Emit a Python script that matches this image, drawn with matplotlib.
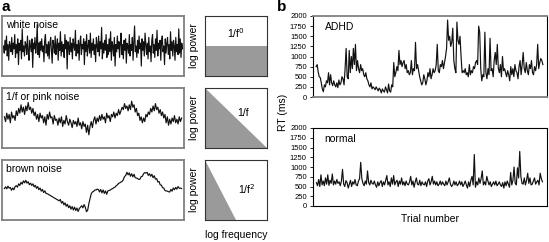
import numpy as np
import matplotlib.pyplot as plt
from matplotlib.patches import Polygon

plt.rcParams['font.family'] = ['Liberation Sans', 'DejaVu Sans']

# ---- data ----
white = [0.1, -0.4, 0.5, -0.2, 0.8, -0.6, 0.2, -0.9, 0.4, 0.1, -0.3, 0.7, -0.5, 0.3, -0.1, 0.9, -0.7, 0.2, -0.4, 0.6,
         -1.2, 0.3, -0.2, 0.5, -0.8, 1.3, -0.3, 0.1, -0.6, 0.4, 0.2, -0.5, 0.8, -0.2, -0.9, 0.5, 0.1, -0.3, 0.6, -1.4,
         0.3, -0.1, 0.7, -0.4, 0.2, 1.6, -0.5, 0.3, -0.7, 0.4, -0.2, 0.6, -0.3, 0.1, -1.0, 0.5, 0.9, -0.4, 0.2, -0.6,
         0.4, -0.8, 0.3, 0.7, -0.2, -1.1, 0.5, 0.2, -0.4, 0.8, -0.5, 0.1, 0.6, -0.9, 0.3, -0.2, 1.1, -0.6, 0.4, -0.3,
         0.2, -0.7, 0.9, -0.1, 0.5, -1.5, 0.4, 0.1, -0.5, 0.7, -0.3, 0.3, -0.8, 0.6, 0.1, -0.2, 1.2, -0.6, 0.2, -0.4,
         0.5, -0.9, 0.3, 0.8, -0.5, 0.2, -0.1, 0.6, -1.2, 0.4, -0.3, 0.9, -0.6, 0.1, 0.5, -0.4, 1.0, -0.7, 0.3, -0.2,
         0.6, -0.5, 0.2, -1.0, 0.7, 0.1, -0.3, 0.8, -0.6, 0.4, -0.1, 1.4, -0.8, 0.3, -0.4, 0.5, -0.2, 0.9, -0.7, 0.2,
         -0.5, 0.6, -0.3, 1.1, -0.9, 0.4, 0.1, -0.6, 0.7, -1.3, 0.2, -0.3, 0.8, -0.1, 0.4, -0.7, 0.3, 1.0, -0.5, 0.2,
         -0.8, 0.5, -0.2, 0.6, -1.1, 0.3, 0.1, -0.4, 0.9, -0.6, 0.2, -0.2, 0.7, -0.9, 0.4, 1.5, -0.3, 0.1, -0.7, 0.5,
         -0.4, 0.8, -0.1, 0.3, -1.3, 0.6, -0.2, 0.4, -0.6, 1.0, 0.2, -0.5, 0.3, -0.8, 0.7, -0.3, 0.1, -1.0, 0.5, 0.9,
         -0.4, 0.2, -0.7, 0.6, -0.2, 1.2, -0.6, 0.3, -0.1, 0.5, -0.9, 0.4, 0.8, -0.3, 0.1, -1.2, 0.6, -0.4, 0.3, 0.7,
         -0.5, 0.2, -0.8, 1.1, -0.2, 0.4, -0.6, 0.5, 0.1, -0.9, 0.7, -0.3, 0.2, -0.5, 1.3, -0.4, 0.6, -0.7, 0.3, -0.1]
pink = [0.2, -0.2, 0.5, 0.0, 0.4, -0.3, 0.6, 0.1, 0.3, -0.1, 0.7, 0.3, 0.9, 0.5, 1.2, 0.6, 1.0, 0.4, 1.1, 0.7,
        1.4, 0.8, 1.0, 0.5, 0.9, 0.3, 0.6, 0.0, 0.4, -0.2, 0.5, 0.1, 0.3, -0.3, 0.2, -0.5, 0.4, 0.0, 0.6, 0.1,
        0.2, -0.4, 0.3, -0.1, 0.0, -0.5, 0.1, -0.3, 0.2, -0.6, -0.1, -0.4, 0.3, -0.2, -0.5, 0.0, -0.3, -0.7, -0.1, -0.4,
        -0.2, -0.6, 0.1, -0.5, -0.3, -0.8, -0.2, -0.6, -0.4, -1.1, -0.5, -1.3, -0.6, -0.2, -0.7, -0.1, 0.2, -0.4, 0.1, -0.2,
        0.3, -0.1, 0.4, 0.0, 0.2, -0.3, 0.5, 0.1, 0.3, -0.2, 0.4, 0.2, 0.6, 0.1, 0.5, 0.3, 0.8, 0.4, 0.7, 1.0,
        0.8, 1.3, 0.9, 1.1, 0.7, 1.2, 0.8, 1.5, 1.0, 1.2, 0.6, 0.9, 0.3, 0.5, -0.1, 0.2, -0.3, 0.1, -0.2, 0.4,
        0.2, 0.6, 0.4, 0.9, 0.6, 1.1, 0.7, 1.3, 0.8, 1.0, 0.5, 0.8, 0.3, 0.6, 0.1, 0.4, -0.3, 0.2, -0.5, 0.0,
        -0.4, 0.1, -0.2, 0.3, -0.3, 0.0, -0.4, 0.2, -0.2, 0.1]
brown = [0.30, 0.42, 0.28, 0.47, 0.33, 0.38, 0.18, 0.34, 0.22, 0.44, 0.50, 0.40, 0.63, 0.52, 0.74, 0.61, 0.84, 0.70, 0.88, 0.68,
         0.78, 0.57, 0.68, 0.52, 0.63, 0.42, 0.53, 0.32, 0.44, 0.22, 0.34, 0.12, 0.24, 0.02, 0.14, -0.04, -0.06, -0.10, -0.16, -0.20,
         -0.26, -0.30, -0.36, -0.40, -0.46, -0.50, -0.56, -0.46, -0.72, -0.60, -0.84, -0.70, -0.94, -0.80, -1.04, -0.90, -1.14, -0.96, -1.20, -1.00,
         -1.24, -1.06, -1.30, -1.10, -1.00, -0.90, -1.05, -0.82, -1.00, -1.32, -1.22, -0.76, -0.42, -0.06, 0.06, 0.10, 0.20, 0.20, 0.26, 0.24,
         0.06, 0.24, 0.00, 0.20, -0.04, 0.14, -0.10, 0.14, 0.16, 0.20, 0.26, 0.30, 0.36, 0.40, 0.50, 0.56, 0.66, 0.70, 0.76, 0.80,
         0.92, 1.14, 1.22, 1.44, 1.26, 1.40, 1.16, 1.34, 1.12, 1.30, 1.06, 1.04, 1.00, 0.94, 0.96, 1.14, 1.16, 1.34, 1.42, 1.38,
         1.44, 1.22, 1.34, 1.16, 1.30, 1.06, 1.20, 0.96, 1.00, 0.76, 0.80, 0.56, 0.54, 0.36, 0.34, 0.16, 0.14, 0.12, 0.08, 0.06,
         0.24, 0.12, 0.34, 0.22, 0.38, 0.26, 0.44, 0.32, 0.34, 0.30]

adhd = [750, 800, 620, 500, 480, 350, 200, 130, 300, 250, 400, 350,
        600, 300, 550, 350, 280, 400, 300, 250, 350, 230, 420, 300, 350, 500, 450, 300, 700,
        1200, 500, 450, 1150, 600, 1000, 700, 1200, 800, 1300, 650, 900, 700, 600, 800, 650, 700, 550, 500, 600,
        450, 400, 300, 250, 350, 200, 250, 220, 180, 250, 200, 150, 220, 180, 100, 200, 150, 120, 250, 180, 100, 320, 150, 120, 300, 250,
        850, 500, 600, 750, 650, 1150, 800, 900, 750, 850, 900, 700, 800, 600, 650, 550, 600, 900, 550, 700, 650, 1350, 700, 800, 650, 500, 400, 300, 350,
        550, 450, 300, 400, 600, 500, 700, 450, 550, 700, 600, 650, 800, 1300, 650, 600, 800, 750, 900, 700, 850, 1000,
        1200, 1900, 1400, 1500, 1250, 1350, 1700, 900, 700, 600, 1850, 1400, 1300, 1500, 1000, 600, 650, 600, 700, 550,
        600, 500, 800, 550, 650, 600, 750, 700, 850, 900, 800, 1750, 1600,
        700, 400, 550, 500, 1600, 600, 450, 700, 550, 1450, 650, 700, 500, 900, 1100, 800, 1300,
        700, 600, 800, 500, 1000, 650, 700, 600, 500, 650, 550, 400, 750, 550, 700, 500, 800, 650, 600, 450, 750, 900,
        550, 800, 1100, 700, 600, 850, 650, 550, 800, 700, 900, 600, 550, 750, 650, 800, 1300, 700, 850, 950, 900, 800]
normal = [600, 520, 680, 500, 800, 540, 640, 520, 720, 560, 800, 530, 660, 580, 820, 540, 640, 560, 680, 580,
          620, 520, 640, 940, 560, 500, 650, 600, 460, 560, 660, 500, 620, 560, 680, 540, 520, 640, 700, 1120,
          700, 580, 520, 640, 560, 900, 600, 540, 660, 580, 560, 640, 540, 480, 620, 520, 600, 650, 500, 620,
          540, 660, 780, 540, 620, 500, 720, 560, 780, 540, 620, 660, 500, 640, 560, 720, 540, 620, 520, 640,
          560, 540, 620, 760, 540, 640, 480, 620, 720, 560, 540, 660, 520, 620, 560, 540, 620, 500, 640, 700,
          540, 620, 760, 560, 640, 540, 620, 520, 560, 640, 540, 620, 560, 520, 640, 540, 620, 720, 560, 500,
          540, 640, 540, 620, 520, 560, 640, 540, 620, 500, 560, 640, 540, 460, 620, 500, 660, 760, 540, 1320,
          480, 620, 540, 720, 580, 700, 900, 540, 620, 540, 760, 640, 540, 620, 500, 560, 620, 540, 640, 520,
          560, 620, 540, 500, 600, 460, 620, 520, 640, 560, 480, 860, 540, 660, 1000, 580, 540, 980, 720, 1400,
          760, 580, 560, 720, 540, 660, 840, 580, 720, 540, 560, 640, 720, 560, 620, 660, 540, 840, 700, 620]

noise_names = ['white noise', '1/f or pink noise', 'brown noise']
spec_labels = ['1/f$^0$', '1/f', '1/f$^2$']
rt_ticks = [0, 250, 500, 750, 1000, 1250, 1500, 1750, 2000]

W, H = 549, 242
fig = plt.figure(figsize=(W / 100, H / 100), dpi=100)


def box(x0, y0, x1, y1):
    # pixel box (top-left origin) -> figure axes
    return fig.add_axes([x0 / W, 1 - y1 / H, (x1 - x0) / W, (y1 - y0) / H])


gray = '#9a9a9a'
edge = '#808080'
rows = [(16, 76), (88, 148), (160, 220)]
ylims = [(-2.0, 2.2), (-2.4, 2.6), (-1.9, 2.3)]

# panel a: noise traces
for (y0, y1), series, name, lim in zip(rows, [white, pink, brown], noise_names, ylims):
    ax = box(2, y0, 184, y1)
    ax.plot(np.arange(len(series)), series, color='#111111', lw=0.85)
    ax.set_xlim(-2, len(series) + 1)
    ax.set_ylim(*lim)
    ax.set_xticks([])
    ax.set_yticks([])
    for s in ax.spines.values():
        s.set_color(edge)
        s.set_linewidth(1.3)
    ax.text(0.02, 0.93, name, transform=ax.transAxes, fontsize=7.5, va='top', ha='left')

# panel a: spectra
shapes = [[(0, 0), (0, 0.5), (1, 0.5), (1, 0)],
          [(0, 0), (0, 1), (1, 0)],
          [(0, 0), (0, 1), (0.5, 0)]]
text_pos = [(0.5, 0.72), (0.62, 0.58), (0.68, 0.52)]
for (y0, y1), shp, lab, tp in zip(rows, shapes, spec_labels, text_pos):
    ax = box(205, y0, 267, y1)
    ax.add_patch(Polygon(shp, closed=True, facecolor=gray, edgecolor='none'))
    ax.set_xlim(0, 1)
    ax.set_ylim(0, 1)
    ax.set_xticks([])
    ax.set_yticks([])
    for s in ax.spines.values():
        s.set_color('#333333')
        s.set_linewidth(0.8)
    ax.text(tp[0], tp[1], lab, transform=ax.transAxes, fontsize=7.5, ha='center', va='center')
    ax.set_ylabel('log power', fontsize=7.5, labelpad=4)

fig.text(236 / W, 1 - 235 / H, 'log frequency', fontsize=7.5, ha='center', va='center')

# panel b
axA = box(313, 16, 547, 97)
axN = box(313, 128, 547, 206)
for ax, series, name in [(axA, adhd, 'ADHD'), (axN, normal, 'normal')]:
    ax.plot(np.arange(len(series)), series, color='#111111', lw=0.85)
    ax.set_xlim(-3, len(series) + 3)
    ax.set_ylim(0, 2000)
    ax.set_yticks(rt_ticks)
    ax.set_yticklabels([str(t) for t in rt_ticks], fontsize=5.5)
    ax.tick_params(axis='y', length=2.5, width=0.6, pad=2)
    ax.set_xticks([])
    for s in ax.spines.values():
        s.set_linewidth(0.8)
    ax.text(0.05, 0.86, name, transform=ax.transAxes, fontsize=7.5, va='center', ha='left')
axA.spines['top'].set_color(edge)
axA.spines['bottom'].set_color(edge)
axA.spines['top'].set_linewidth(1.3)
axA.spines['bottom'].set_linewidth(1.3)

fig.text(283 / W, 1 - 112 / H, 'RT (ms)', fontsize=7.5, rotation=90, ha='center', va='center')
fig.text(430 / W, 1 - 219 / H, 'Trial number', fontsize=7.5, ha='center', va='center')

fig.text(2 / W, 1 - 7 / H, 'a', fontsize=11, fontweight='bold', ha='left', va='center')
fig.text(277 / W, 1 - 7 / H, 'b', fontsize=11, fontweight='bold', ha='left', va='center')

fig.savefig('out.png', dpi=100)
